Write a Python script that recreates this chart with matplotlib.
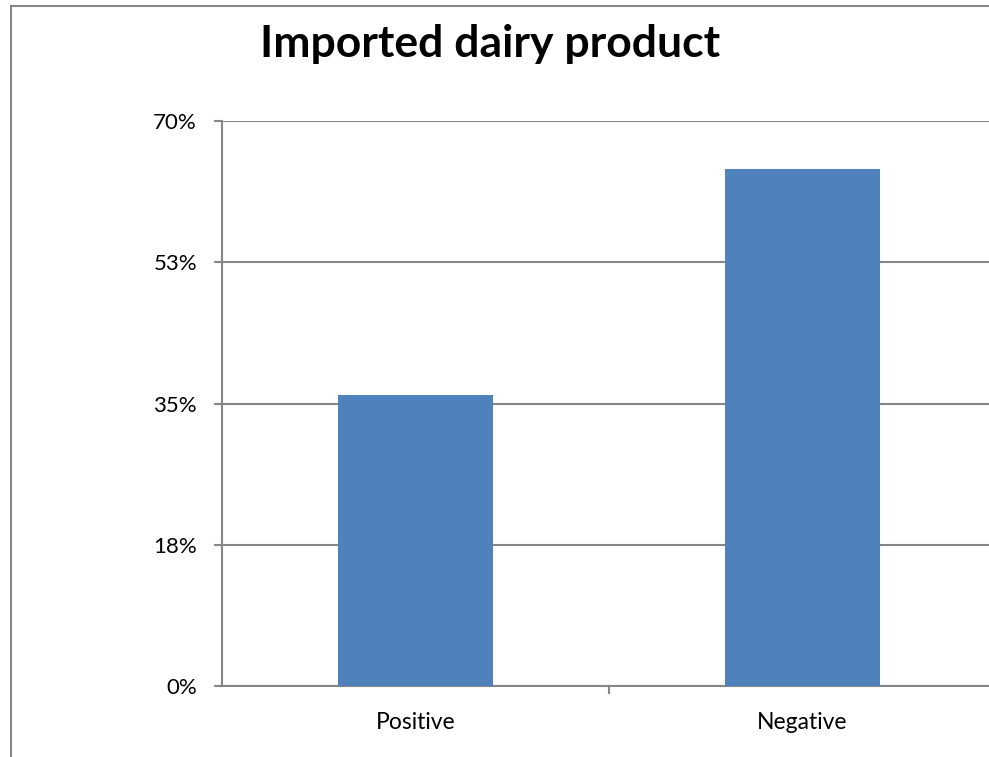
import matplotlib
matplotlib.use("Agg")
import matplotlib.pyplot as plt
from matplotlib.patches import Rectangle

categories = ["Positive", "Negative"]
shares = [36.0, 64.0]
ytick_values = [0, 17.5, 35, 52.5, 70]
ytick_labels = ["0%", "18%", "35%", "53%", "70%"]

plt.rcParams["font.family"] = ["Lato", "DejaVu Sans"]

W, H = 989, 757
fig = plt.figure(figsize=(W / 100, H / 100), dpi=100)
fig.patch.set_facecolor("white")

grey = "#868686"

# chart outer border (runs past the right and bottom edges)
fig.patches.append(Rectangle((11 / W, -0.05), 1.2, 1 - 6 / H + 0.05,
                             transform=fig.transFigure, fill=False,
                             edgecolor=grey, linewidth=1.5, zorder=0))

left, right = 222 / W, 996 / W
bottom, top = (H - 686) / H, (H - 121) / H
ax = fig.add_axes([left, bottom, right - left, top - bottom])
ax.set_clip_on(False)

x = list(range(len(categories)))
ax.bar(x, shares, width=0.4, color="#4F81BD", zorder=3)

ax.set_xlim(-0.5, len(categories) - 0.5)
ax.set_ylim(0, 70)
ax.set_yticks(ytick_values)
ax.set_yticklabels(ytick_labels, fontsize=16)
ax.set_xticks(x)
ax.set_xticklabels(categories, fontsize=16.5)
ax.set_xticks([0.5], minor=True)

ax.grid(axis="y", color=grey, linewidth=1.5, zorder=0)
for side in ["top", "right"]:
    ax.spines[side].set_visible(False)
for side in ["left", "bottom"]:
    ax.spines[side].set_color(grey)
    ax.spines[side].set_linewidth(1.5)

ax.tick_params(axis="y", length=6, width=1.5, color=grey, pad=12)
ax.tick_params(axis="x", which="major", length=0, pad=19)
ax.tick_params(axis="x", which="minor", length=6, width=1.5, color=grey)

fig.text(490 / W, 1 - 44 / H, "Imported dairy product", ha="center", va="center",
         fontsize=32, fontweight="bold")

fig.savefig("out.png", dpi=100)
